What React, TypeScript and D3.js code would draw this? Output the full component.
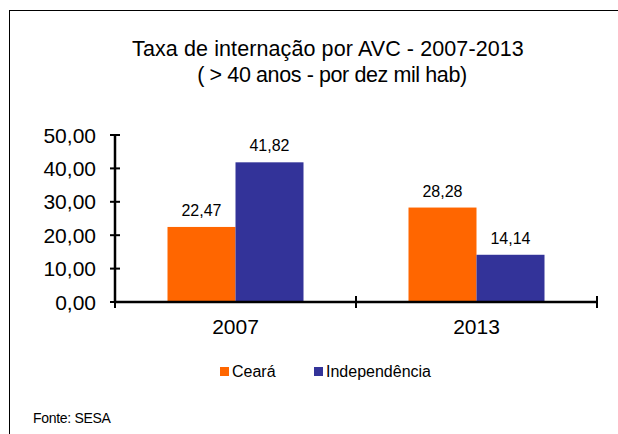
import React from "react";
import * as d3 from "d3";

const categories = ["2007", "2013"];
const seriesNames = ["Ceará", "Independência"];
const ceara = [22.47, 28.28];
const independencia = [41.82, 14.14];
const yTicks = [0, 10, 20, 30, 40, 50];
const colors = ["#FF6600", "#333399"];

const W = 618, H = 434;
const left = 115, right = 597, top = 135, bottom = 302;

export default function App() {
  const x = d3.scaleBand<string>().domain(categories).range([left, right]).paddingInner(0).paddingOuter(0);
  const y = d3.scaleLinear().domain([0, 50]).range([bottom, top]);
  const barW = 68;
  const series = [ceara, independencia];
  const fmt = (v: number) => v.toFixed(2).replace(".", ",");
  const font = "Liberation Sans, Arial, sans-serif";
  return (
    <svg width={W} height={H} style={{ position: "absolute", left: 0, top: 0 }} fontFamily={font}>
      <rect x={0} y={0} width={W} height={H} fill="#fff" />
      <rect x={9.5} y={10.5} width={700} height={500} fill="none" stroke="#000" strokeWidth={1} />
      <text x={328} y={56} textAnchor="middle" fontSize={21.5} letterSpacing={0.1}>Taxa de internação por AVC - 2007-2013</text>
      <text x={332} y={82} textAnchor="middle" fontSize={21.5} letterSpacing={-0.4}>( &gt; 40 anos - por dez mil hab)</text>
      {categories.map((c, i) => {
        const cx = x(c)! + x.bandwidth() / 2;
        return series.map((s, j) => {
          const bx = cx - barW + j * barW;
          return (
            <g key={c + j}>
              <rect x={bx} y={y(s[i])} width={barW} height={bottom - y(s[i])} fill={colors[j]} />
              <text x={bx + barW / 2} y={y(s[i]) - 11} textAnchor="middle" fontSize={16}>{fmt(s[i])}</text>
            </g>
          );
        });
      })}
      <line x1={left} x2={left} y1={top} y2={bottom} stroke="#000" strokeWidth={2.5} />
      {yTicks.map((t) => (
        <g key={t}>
          <line x1={left - 5} x2={left + 5} y1={y(t)} y2={y(t)} stroke="#000" strokeWidth={2} />
          <text x={96} y={y(t) + 7.5} textAnchor="end" fontSize={21}>{fmt(t)}</text>
        </g>
      ))}
      <line x1={left} x2={right} y1={bottom} y2={bottom} stroke="#000" strokeWidth={2.5} />
      {[left, x(categories[1])!, right].map((v, i) => (
        <line key={i} x1={v} x2={v} y1={bottom - (i === 0 ? 0 : 6)} y2={bottom + 6} stroke="#000" strokeWidth={2} />
      ))}
      {categories.map((c) => (
        <text key={c} x={x(c)! + x.bandwidth() / 2} y={334} textAnchor="middle" fontSize={21}>{c}</text>
      ))}
      {seriesNames.map((n, j) => {
        const lx = [220, 314][j];
        return (
          <g key={n}>
            <rect x={lx} y={367} width={9} height={9} fill={colors[j]} />
            <text x={lx + 12} y={377} fontSize={16}>{n}</text>
          </g>
        );
      })}
      <text x={33} y={423} fontSize={14} letterSpacing={-0.3}>Fonte: SESA</text>
    </svg>
  );
}
